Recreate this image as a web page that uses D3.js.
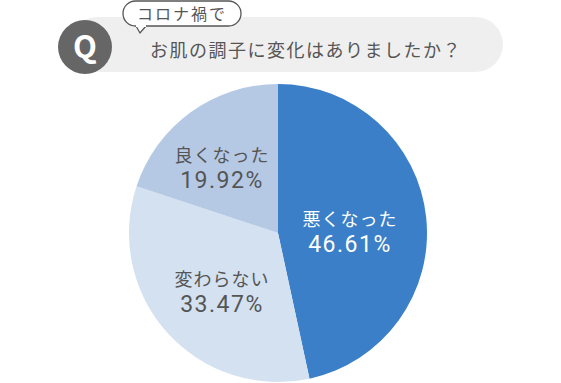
<!DOCTYPE html>
<html>
<head>
<meta charset="utf-8">
<title> コロナ禍で お肌の調子 </title>
<script src="https://d3js.org/d3.v7.min.js"></script>
<style>
body { margin: 0; background: #fff; }
text { font-family: "Noto Sans CJK JP", "Noto Sans", sans-serif; }
</style>
</head>
<body>
<div id="chart"></div>
<script>
// data
var categories = ["悪くなった", "変わらない", "良くなった"];
var values = [46.61, 33.47, 19.92];
var valueLabels = ["46.61%", "33.47%", "19.92%"];
var colors = ["#3a7fc7", "#d3e1f1", "#b5c9e4"];
var titleTag = "コロナ禍で";
var question = "お肌の調子に変化はありましたか？";

var width = 561, height = 383;
var cx = 278, cy = 233, radius = 149;

var svg = d3.select("#chart").append("svg")
	.attr("width", width)
	.attr("height", height);

// header bar
var head = svg.append("g");
head.append("rect")
	.attr("x", 70).attr("y", 17)
	.attr("width", 433).attr("height", 55)
	.attr("rx", 27.5)
	.attr("fill", "#efefef");

head.append("circle")
	.attr("cx", 85).attr("cy", 47).attr("r", 27)
	.attr("fill", "#666");
head.append("text")
	.attr("x", 85).attr("y", 58)
	.attr("text-anchor", "middle")
	.attr("font-size", 31)
	.attr("font-weight", "bold")
	.attr("fill", "#fff")
	.text("Q");

// speech bubble
head.append("path")
	.attr("d", "M136,26 L140,33 L146,26")
	.attr("fill", "#fff")
	.attr("stroke", "#555")
	.attr("stroke-width", 1.3);
head.append("rect")
	.attr("x", 123).attr("y", 1)
	.attr("width", 118).attr("height", 25)
	.attr("rx", 12.5)
	.attr("fill", "#fff")
	.attr("stroke", "#555")
	.attr("stroke-width", 1.3);
head.append("rect")
	.attr("x", 136).attr("y", 24)
	.attr("width", 10).attr("height", 3)
	.attr("fill", "#fff");
head.append("text")
	.attr("x", 182).attr("y", 20)
	.attr("text-anchor", "middle")
	.attr("font-size", 16)
	.attr("letter-spacing", 2)
	.attr("fill", "#555")
	.text(titleTag);

head.append("text")
	.attr("x", 306).attr("y", 57)
	.attr("text-anchor", "middle")
	.attr("font-size", 18)
	.attr("letter-spacing", 1.5)
	.attr("fill", "#555")
	.text(question);

// pie
var pie = d3.pie().sort(null).value(function(d) { return d; });
var arc = d3.arc().innerRadius(0).outerRadius(radius);
var arcs = pie(values);

var g = svg.append("g")
	.attr("transform", "translate(" + cx + "," + cy + ")");

g.selectAll("path.slice")
	.data(arcs)
	.enter().append("path")
	.attr("class", "slice")
	.attr("d", arc)
	.attr("fill", function(d, i) { return colors[i]; });

// label anchor (x, baseline of first line) relative to pie centre
var labelPos = [[72, -7], [-56, 53], [-56, -71]];

var lab = g.selectAll("g.lab")
	.data(arcs)
	.enter().append("g")
	.attr("class", "lab")
	.attr("transform", function(d, i) { return "translate(" + labelPos[i][0] + "," + labelPos[i][1] + ")"; });

lab.append("text")
	.attr("text-anchor", "middle")
	.attr("font-size", 18)
	.attr("letter-spacing", 1)
	.attr("fill", function(d, i) { return i === 0 ? "#fff" : "#555"; })
	.text(function(d, i) { return categories[i]; });

lab.append("text")
	.attr("text-anchor", "middle")
	.attr("y", 26)
	.attr("font-size", 23)
	.attr("letter-spacing", 1.5)
	.style("font-family", "Roboto, sans-serif")
	.attr("fill", function(d, i) { return i === 0 ? "#fff" : "#555"; })
	.text(function(d, i) { return valueLabels[i]; });
</script>
</body>
</html>
